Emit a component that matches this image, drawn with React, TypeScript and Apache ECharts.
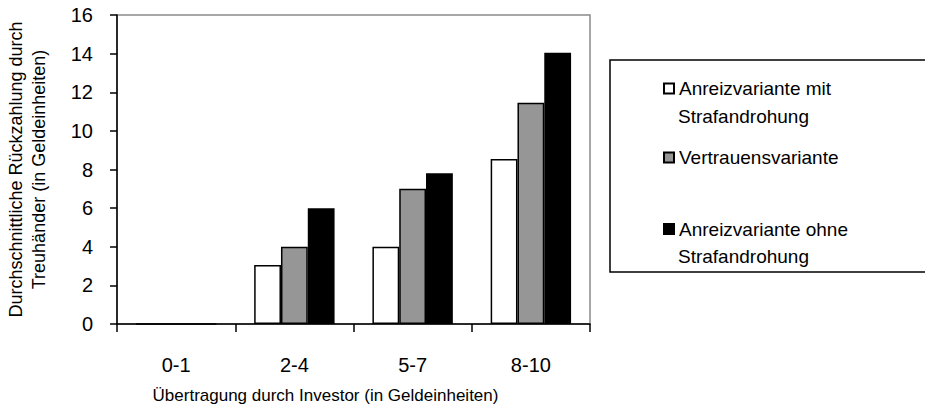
import React, { useEffect, useRef } from "react";
import * as echarts from "echarts";

const categories = ["0-1", "2-4", "5-7", "8-10"];
const seriesNames = [
  "Anreizvariante mit Strafandrohung",
  "Vertrauensvariante",
  "Anreizvariante ohne Strafandrohung",
];
const legendFirstLines = ["Anreizvariante mit", "Vertrauensvariante", "Anreizvariante ohne"];
const legendSecondLines = ["Strafandrohung", "", "Strafandrohung"];
const mitStrafe = [0, 3.05, 4.0, 8.55];
const vertrauen = [0, 4.0, 7.0, 11.45];
const ohneStrafe = [0, 6.0, 7.8, 14.05];
const yTicks = { min: 0, max: 16, interval: 2 };
const xTitle = "Übertragung durch Investor (in Geldeinheiten)";
const yTitle = "Durchschnittliche Rückzahlung durch\nTreuhänder (in Geldeinheiten)";

const FONT = "'Liberation Sans', Arial, sans-serif";

export default function App() {
  const ref = useRef<HTMLDivElement>(null);
  useEffect(() => {
    if (!ref.current) return;
    const chart = echarts.init(ref.current, undefined, { renderer: "svg" });
    const fills = ["#ffffff", "#969696", "#000000"];
    const data = [mitStrafe, vertrauen, ohneStrafe];
    const iconCenters = [88.5, 157.5, 229];
    const graphicTexts: any[] = [];
    legendSecondLines.forEach((t, i) => {
      if (t) {
        graphicTexts.push({
          type: "text",
          left: 678,
          top: iconCenters[i] + 28 - 10,
          style: { text: t, fontSize: 19, fontFamily: FONT, fill: "#000" },
          z: 100,
        });
      }
    });
    chart.setOption({
      animation: false,
      backgroundColor: "#ffffff",
      textStyle: { fontFamily: FONT },
      grid: {
        left: 117,
        top: 15,
        right: 335,
        bottom: 89,
        outerBoundsMode: "none",
        containLabel: false,
        show: true,
        borderColor: "#8a8a8a",
        borderWidth: 1.5,
        backgroundColor: "transparent",
      },
      legend: seriesNames.map((n, i) => ({
        data: [n],
        left: 663,
        top: iconCenters[i] - 11,
        padding: 0,
        orient: "vertical",
        icon: "rect",
        itemWidth: 10,
        itemHeight: 10,
        itemGap: 0,
        selectedMode: false,
        formatter: () => legendFirstLines[i],
        textStyle: {
          fontFamily: FONT,
          fontSize: 19,
          color: "#000",
          lineHeight: 22,
        },
      })),
      xAxis: {
        type: "category",
        data: categories,
        axisLine: { lineStyle: { color: "#000", width: 1.5 } },
        axisTick: { show: true, length: 8, lineStyle: { color: "#000", width: 1.5 } },
        axisLabel: { color: "#000", fontSize: 20, margin: 31, fontFamily: FONT },
        name: xTitle,
        nameLocation: "middle",
        nameGap: 63,
        nameTextStyle: { color: "#000", fontSize: 17, fontFamily: FONT, padding: [0, 56, 0, 0] },
      },
      yAxis: {
        type: "value",
        min: yTicks.min,
        max: yTicks.max,
        interval: yTicks.interval,
        splitLine: { show: false },
        axisLine: { show: true, lineStyle: { color: "#000", width: 1.5 } },
        axisTick: { show: true, length: 7, lineStyle: { color: "#000", width: 1.5 } },
        axisLabel: { color: "#000", fontSize: 20, margin: 24, fontFamily: FONT },
        name: yTitle,
        nameLocation: "middle",
        nameRotate: 90,
        nameGap: 67,
        nameTextStyle: { color: "#000", fontSize: 18, lineHeight: 23, fontFamily: FONT },
      },
      series: seriesNames.map((n, i) => ({
        name: n,
        type: "bar",
        data: data[i],
        barGap: "0%",
        barCategoryGap: "32%",
        itemStyle: { color: fills[i], borderColor: "#000", borderWidth: 1.5 },
      })),
      graphic: [
        {
          type: "rect",
          shape: { x: 610, y: 60, width: 330, height: 212 },
          style: { fill: "none", stroke: "#000", lineWidth: 1.5 },
          z: 100,
        },
        ...graphicTexts,
      ],
    });
    return () => chart.dispose();
  }, []);
  return (
    <div
      ref={ref}
      style={{ position: "fixed", left: 0, top: 0, width: 925, height: 413, background: "#fff" }}
    />
  );
}
